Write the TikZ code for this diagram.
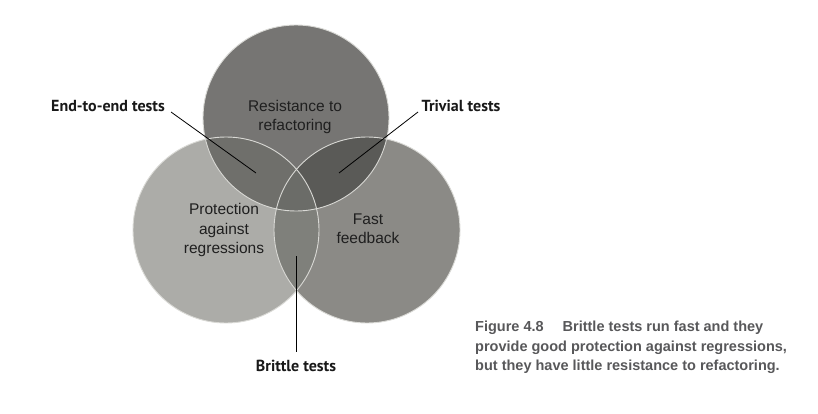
\documentclass[tikz,border=0pt]{standalone}
\usepackage{fontspec}
\setmainfont{Liberation Sans}
\newfontfamily\lblfont{PT Sans}
\newfontfamily\capfont{Liberation Sans}
\definecolor{ctop}{HTML}{767573}
\definecolor{cleft}{HTML}{ACACA8}
\definecolor{cright}{HTML}{8B8A86}
\definecolor{ctl}{HTML}{6F6F6B}
\definecolor{ctr}{HTML}{5A5A57}
\definecolor{clr}{HTML}{7F807B}
\definecolor{call}{HTML}{6B6C68}
\definecolor{vedge}{HTML}{D9D9D5}
\definecolor{captext}{HTML}{58585A}
\begin{document}
\begin{tikzpicture}[x=1pt,y=-1pt,
  circtext/.style={align=center,inner sep=0pt,text=black!88,font=\fontsize{15.5}{19.3}\selectfont},
  lbl/.style={inner sep=0pt,text=black!90,font=\lblfont\bfseries\fontsize{16}{19}\selectfont},
  leader/.style={draw=black,line width=0.8pt},
  caption/.style={inner sep=0pt,align=left,text=captext,font=\capfont\bfseries\fontsize{14.5}{19.3}\selectfont}]
\useasboundingbox (0,0) rectangle (818,414);
\fill[white] (0,0) rectangle (818,414);
\coordinate (T) at (296,118);
\coordinate (L) at (226,230);
\coordinate (Rc) at (367,230);
\def\Rad{93pt}
\fill[cleft] (L) circle (\Rad);
\fill[cright] (Rc) circle (\Rad);
\fill[ctop] (T) circle (\Rad);
\begin{scope}\clip (T) circle (\Rad); \fill[ctl] (L) circle (\Rad);\end{scope}
\begin{scope}\clip (T) circle (\Rad); \fill[ctr] (Rc) circle (\Rad);\end{scope}
\begin{scope}\clip (L) circle (\Rad); \fill[clr] (Rc) circle (\Rad);\end{scope}
\begin{scope}\clip (T) circle (\Rad); \clip (L) circle (\Rad); \fill[call] (Rc) circle (\Rad);\end{scope}
\draw[vedge,line width=0.9pt] (L) circle (\Rad) (Rc) circle (\Rad) (T) circle (\Rad);

\node[circtext] (res) at (295,117) {Resistance to\\refactoring};
\node[circtext] (prot) at (224,230) {Protection\\against\\regressions};
\node[circtext] (fast) at (368,229) {Fast\\feedback};

\node[lbl] (e2e) at (108,106) {End-to-end tests};
\node[lbl] (triv) at (461,106) {Trivial tests};
\node[lbl] (brit) at (296,366) {Brittle tests};

\coordinate (e2eA) at (171,112);
\coordinate (e2eB) at (256,173);
\coordinate (trivA) at (418,112);
\coordinate (trivB) at (339,173);
\coordinate (britA) at (296,256);
\coordinate (britB) at (296,352);
\draw[leader] (e2eA) -- (e2eB);
\draw[leader] (trivA) -- (trivB);
\draw[leader] (britA) -- (britB);

\node[caption,anchor=north west] (cap) at (475,321) {Figure 4.8\hspace{19pt}Brittle tests run fast and they\\provide good protection against regressions,\\but they have little resistance to refactoring.};
\end{tikzpicture}
\end{document}
